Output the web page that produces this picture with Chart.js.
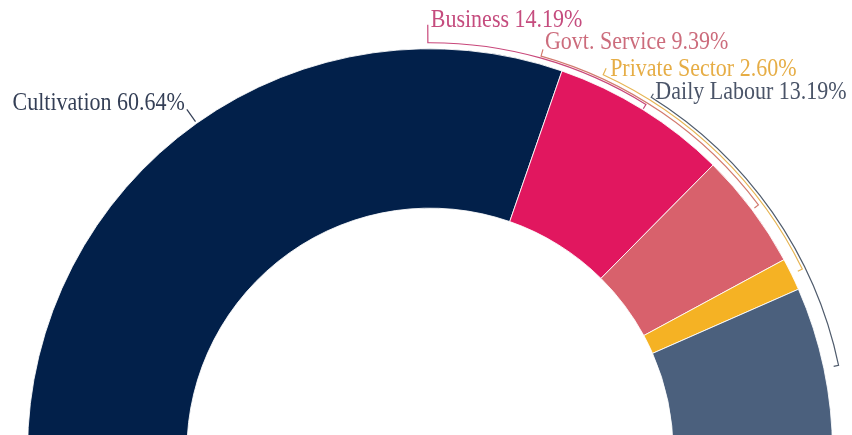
<!DOCTYPE html>
<html>
<head>
<meta charset="utf-8">
<script src="https://cdn.jsdelivr.net/npm/chart.js@4"></script>
<style>
  html, body { margin: 0; padding: 0; overflow: hidden; background: #fff; }
  #wrap { position: absolute; left: 0; top: 0; width: 852px; height: 470px; }
</style>
</head>
<body>
<div id="wrap"><canvas id="occupation"></canvas></div>
<script>
const labels = ['Cultivation', 'Business', 'Govt. Service', 'Private Sector', 'Daily Labour'];
const shares = [60.64, 14.19, 9.39, 2.60, 13.19];

const sliceColors = ['#02204a', '#e1175f', '#d8616c', '#f5b224', '#4b607d'];
const textColors = ['#343f56', '#c54c7e', '#cc6c7c', '#e6ad45', '#4a5468'];
const lineColors = ['#343f56', '#c8477a', '#d27a6e', '#e7b553', '#4f5b6c'];

// callouts: angle (deg, 0 = right) where each bracket leaves toward its label,
// bracket ring offset, leader length outside the outer radius, text nudge
const calloutStart = [null, 90.3, 74.3, 65.3, 58];
const bracketGap = [0, 6, 8, 12, 15];
const labelGap = [17, 24, 15, 19, 19];
const textShift = [[-2, 1], [3, 2], [2, 0], [4, 8], [2, 5]];

function tallText(ctx, text, x, y) {
  ctx.save();
  ctx.translate(x, y);
  ctx.scale(1, 1.1);
  ctx.fillText(text, 0, 0);
  ctx.restore();
}

const calloutPlugin = {
  id: 'callouts',
  afterDatasetsDraw(chart) {
    const ctx = chart.ctx;
    const arcs = chart.getDatasetMeta(0).data;
    ctx.save();
    ctx.font = '22px "Liberation Serif", "Times New Roman", serif';
    ctx.lineWidth = 1.2;
    arcs.forEach((arc, i) => {
      const cx = arc.x, cy = arc.y, R = arc.outerRadius;
      const mid = (arc.startAngle + arc.endAngle) / 2;
      const pt = (a, r) => [cx + r * Math.cos(a), cy + r * Math.sin(a)];
      const text = labels[i] + ' ' + shares[i].toFixed(2) + '%';
      ctx.strokeStyle = lineColors[i];
      ctx.fillStyle = textColors[i];

      if (calloutStart[i] === null) {
        // plain leader at the middle of the slice
        const a = pt(mid, R + 2), b = pt(mid, R + labelGap[i]);
        ctx.beginPath();
        ctx.moveTo(a[0], a[1]);
        ctx.lineTo(b[0], b[1]);
        ctx.stroke();
        ctx.textAlign = 'right';
        tallText(ctx, text, b[0] + textShift[i][0], b[1] + textShift[i][1]);
      } else {
        // bracket running along the rim from the label down to the slice middle
        const start = -calloutStart[i] * Math.PI / 180;
        const rb = R + bracketGap[i];
        const top = pt(start, R + labelGap[i]);
        const tip = pt(mid, rb - 5);
        ctx.beginPath();
        ctx.moveTo(top[0], top[1]);
        ctx.arc(cx, cy, rb, start, mid);
        ctx.lineTo(tip[0], tip[1]);
        ctx.stroke();
        ctx.textAlign = 'left';
        tallText(ctx, text, top[0] + textShift[i][0], top[1] + textShift[i][1]);
      }
    });
    ctx.restore();
  }
};

new Chart(document.getElementById('occupation'), {
  type: 'doughnut',
  data: {
    labels: labels,
    datasets: [{
      data: shares,
      backgroundColor: sliceColors,
      borderColor: 'rgba(255,255,255,0.85)',
      borderWidth: 1
    }]
  },
  options: {
    responsive: true,
    maintainAspectRatio: false,
    animation: false,
    events: [],
    rotation: -90,
    circumference: 180,
    cutout: '60.4%',
    layout: { padding: { left: 27, right: 19, top: 48, bottom: 18 } },
    plugins: {
      legend: { display: false },
      tooltip: { enabled: false }
    }
  },
  plugins: [calloutPlugin]
});
</script>
</body>
</html>
